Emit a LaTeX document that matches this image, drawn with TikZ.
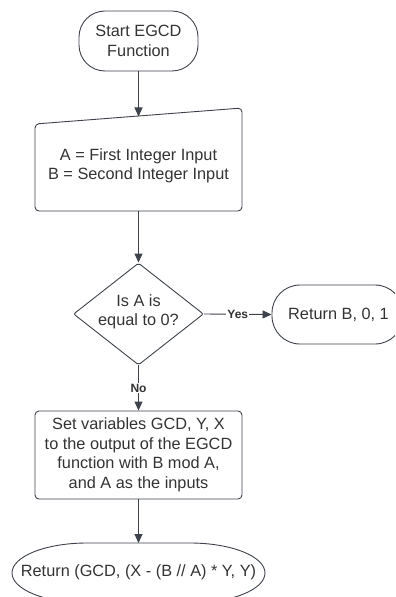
\documentclass[tikz,border=0pt]{standalone}
\usepackage{fontspec}
\setmainfont{Liberation Sans}
\usetikzlibrary{shapes.geometric, arrows.meta}
\definecolor{ln}{RGB}{62,66,74}
\definecolor{tx}{RGB}{51,51,51}
\begin{document}
\begin{tikzpicture}[x=1bp,y=-1bp,
  line/.style={draw=ln, line width=0.9bp},
  arr/.style={line, -{Triangle[length=9bp,width=8bp]}},
  txt/.style={text=tx, font=\fontsize{16.3bp}{19.5bp}\selectfont, align=center},
  lab/.style={text=tx, font=\fontsize{12bp}{13bp}\selectfont\bfseries, fill=white, inner sep=1bp},
  term/.style={txt, line, rectangle, inner sep=2bp},
]
\useasboundingbox (0,0) rectangle (395,597);
\clip (0,0) rectangle (395,597);
% start
\node (start) [term, rounded corners=26bp, minimum width=119bp, minimum height=60bp] at (138.5,41) {Start EGCD\\Function};
% manual input
\draw[line, rounded corners=4bp] (35,124) -- (242,108) -- (242,211) -- (35,211) -- cycle;
\coordinate (inTop) at (138.5,116.5);
\coordinate (inBot) at (138.5,211);
\node (inp) [txt] at (138.5,166) {A = First Integer Input\\B = Second Integer Input};
% decision
\node (dec) [draw=ln, line width=0.9bp, diamond, aspect=1.27, minimum width=130bp, minimum height=102bp, inner sep=0pt, rounded corners=2bp] at (138.5,314) {};
\node (dectxt) [txt] at (138.5,312) {Is A is\\equal to 0?};
% return B
\node (retB) [term, rounded corners=28bp, minimum width=131bp, minimum height=59bp] at (337.5,314.5) {};
\node (retBtxt) [txt] at (338.5,314.5) {Return B, 0, 1};
% process
\node (proc) [term, rounded corners=4bp, minimum width=207bp, minimum height=88bp] at (138.5,455) {Set variables GCD, Y, X\\to the output of the EGCD\\function with B mod A,\\and A as the inputs};
% final return
\draw[line] (12,573) .. controls (12,556.4) and (45.6,543) .. (87,543) -- (190,543)
  .. controls (231.4,543) and (265,556.4) .. (265,573)
  .. controls (265,589.6) and (231.4,603) .. (190,603) -- (87,603)
  .. controls (45.6,603) and (12,589.6) .. (12,573) -- cycle;
\coordinate (retTop) at (138.5,543);
\node (ret) [txt] at (138.5,572) {Return (GCD, (X - (B // A) * Y, Y)};
% connectors
\draw[arr] (start.south) -- (inTop);
\draw[arr] (inBot) -- (dec.north);
\draw[arr] (dec.east) -- node[lab] {Yes} (retB.west);
\draw[arr] (dec.south) -- node[lab] {No} (proc.north);
\draw[arr] (proc.south) -- (retTop);
\end{tikzpicture}
\end{document}
